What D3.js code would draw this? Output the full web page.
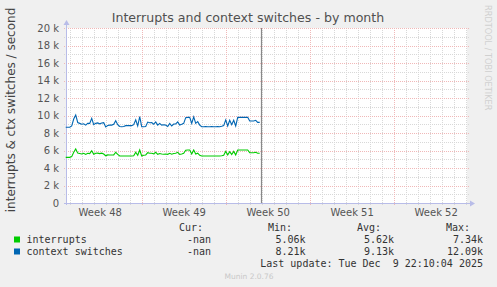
<!DOCTYPE html>
<html>
<head>
<meta charset="utf-8">
<title>interrupts by month</title>
<script src="https://d3js.org/d3.v7.min.js"></script>
<style>
  body { margin: 0; background: #f0f0f0; overflow: hidden; }
  svg text { font-family: "DejaVu Sans", sans-serif; }
  .mono { font-family: "DejaVu Sans Mono", monospace; font-size: 10px; fill: #333; }
</style>
</head>
<body>
<script>
// series: one value every 4 hours, starting Sun Nov 23 16:00
const seriesStart = new Date(2025, 10, 23, 16, 0);
const stepHours = 4;
const contextSwitches = [
  8650, 8650, 8650, 8800, 9600, 10060, 9200, 9100, 9000, 9050,
  8900, 9100, 9100, 9680, 8950, 9100, 9150, 9050, 9150, 9180,
  8700, 8850, 8900, 8900, 9000, 9400, 8950, 8750, 8720, 8750,
  8840, 8840, 8840, 8840, 8950, 9500, 8800, 9870, 8720, 8720,
  8750, 9250, 9180, 9200, 9000, 9260, 8900, 9100, 8900, 8950,
  8900, 8750, 9100, 8800, 9030, 9030, 9260, 8910, 9000, 9100,
  9750, 9790, 9790, 9100, 9850, 9100, 9300, 8900, 8720, 8720,
  8750, 8720, 8720, 8750, 8720, 8720, 8750, 8720, 8780, 8850,
  9500, 8800, 9450, 8950, 9450, 8800, 9790, 9790, 9790, 9790,
  9790, 9790, 9370, 9370, 9370, 9450, 9220, 9220
];
const interrupts = [
  5220, 5220, 5220, 5300, 5800, 6170, 5700, 5650, 5600, 5680,
  5550, 5680, 5650, 5980, 5560, 5680, 5700, 5650, 5700, 5600,
  5400, 5500, 5490, 5490, 5500, 5800, 5560, 5370, 5370, 5370,
  5370, 5370, 5370, 5370, 5400, 5800, 5450, 6060, 5370, 5450,
  5490, 5750, 5680, 5680, 5620, 5790, 5560, 5650, 5600, 5580,
  5600, 5560, 5680, 5580, 5650, 5680, 5790, 5560, 5600, 5680,
  6030, 6060, 6060, 5600, 6060, 5600, 5700, 5450, 5370, 5370,
  5370, 5370, 5370, 5370, 5370, 5370, 5370, 5370, 5400, 5450,
  5900, 5500, 5870, 5550, 5900, 5500, 6060, 6060, 6060, 6060,
  6060, 6060, 5750, 5750, 5750, 5800, 5680, 5680
];

const yTicks = [0, 2000, 4000, 6000, 8000, 10000, 12000, 14000, 16000, 18000, 20000];
const weekLabels = ["Week 48", "Week 49", "Week 50", "Week 51", "Week 52"];
const weekStarts = [
  new Date(2025, 10, 23), new Date(2025, 10, 30), new Date(2025, 11, 7),
  new Date(2025, 11, 14), new Date(2025, 11, 21)
];
const lastUpdate = new Date(2025, 11, 9, 22, 10, 4);

const legendNames = ["interrupts", "context switches"];
const legendColors = ["#00cc00", "#0066b3"];
const legendCur = ["-nan", "-nan"];
const legendMin = ["5.06k", "8.21k"];
const legendAvg = ["5.62k", "9.13k"];
const legendMax = ["7.34k", "12.09k"];

const W = 497, H = 287;
const svg = d3.select("body").append("svg").attr("width", W).attr("height", H);
svg.append("rect").attr("width", W).attr("height", H).attr("fill", "#f0f0f0");

const x0 = 66, x1 = 467, yTop = 28, yBot = 203;
const x = d3.scaleTime()
  .domain([new Date(2025, 10, 23, 16, 34), new Date(2025, 11, 27, 2, 36)])
  .range([x0, x1]);
const y = d3.scaleLinear().domain([0, 20000]).range([yBot, yTop]);

svg.append("rect").attr("x", x0).attr("y", yTop).attr("width", x1 - x0).attr("height", yBot - yTop).attr("fill", "#fff");

const minorC = "#d8d8d8", majorC = "#f0b8b8";
const grid = svg.append("g").attr("shape-rendering", "crispEdges");
// minor horizontal
d3.range(1000, 20001, 2000).forEach(v => {
  grid.append("line").attr("x1", x0 - 2).attr("x2", x1 + 2)
    .attr("y1", Math.round(y(v)) + 0.5).attr("y2", Math.round(y(v)) + 0.5)
    .attr("stroke", minorC).attr("stroke-dasharray", "1,1");
});
// minor vertical, daily
d3.timeDay.range(x.domain()[0], x.domain()[1]).forEach(d => {
  if (d.getDay() === 0) return;
  const px = Math.round(x(d)) + 0.5;
  grid.append("line").attr("x1", px).attr("x2", px).attr("y1", yTop).attr("y2", yBot + 2)
    .attr("stroke", minorC).attr("stroke-dasharray", "1,1");
});
// major horizontal
yTicks.forEach(v => {
  if (v === 0) return;
  grid.append("line").attr("x1", x0 - 2).attr("x2", x1 + 2)
    .attr("y1", Math.round(y(v)) + 0.5).attr("y2", Math.round(y(v)) + 0.5)
    .attr("stroke", majorC).attr("stroke-dasharray", "1,1");
});
// major vertical, weeks
weekStarts.slice(1).forEach(d => {
  const px = Math.round(x(d)) + 0.5;
  grid.append("line").attr("x1", px).attr("x2", px).attr("y1", yTop).attr("y2", yBot + 2)
    .attr("stroke", majorC).attr("stroke-dasharray", "1,1");
});

// y axis labels
const yAxis = svg.append("g").attr("transform", `translate(${x0},0)`)
  .call(d3.axisLeft(y).tickValues(yTicks).tickSize(0).tickPadding(7)
    .tickFormat(d => d === 0 ? "0" : (d / 1000) + " k"));
yAxis.select(".domain").remove();
yAxis.selectAll("text").attr("font-size", 10).attr("fill", "#555").attr("font-family", "DejaVu Sans");

// x axis labels at mid-week
const xAxis = svg.append("g").attr("transform", `translate(0,${yBot})`)
  .call(d3.axisBottom(x).tickValues(weekStarts.map(d => d3.timeHour.offset(d, 84)))
    .tickSize(0).tickPadding(6)
    .tickFormat((d, i) => weekLabels[i]));
xAxis.select(".domain").remove();
xAxis.selectAll("text").attr("font-size", 10).attr("fill", "#555").attr("font-family", "DejaVu Sans");

// axis lines + arrows
const axc = "#b8bce8";
svg.append("line").attr("x1", x0 + 0.5).attr("x2", x0 + 0.5).attr("y1", yTop - 4).attr("y2", yBot + 2)
  .attr("stroke", axc).attr("shape-rendering", "crispEdges");
svg.append("line").attr("x1", x0 - 2).attr("x2", x1 + 4).attr("y1", yBot + 0.5).attr("y2", yBot + 0.5)
  .attr("stroke", axc).attr("shape-rendering", "crispEdges");
svg.append("path").attr("d", `M${x0 - 2.5},${yTop - 3}L${x0 + 0.5},${yTop - 8}L${x0 + 3.5},${yTop - 3}Z`).attr("fill", axc);
svg.append("path").attr("d", `M${x1 + 3},${yBot - 2.5}L${x1 + 8},${yBot + 0.5}L${x1 + 3},${yBot + 3.5}Z`).attr("fill", axc);

// data lines
const t = i => d3.timeHour.offset(seriesStart, i * stepHours);
const line = d3.line().x((d, i) => x(t(i))).y(d => y(d));
svg.append("path").datum(interrupts).attr("d", line).attr("fill", "none")
  .attr("stroke", legendColors[0]).attr("stroke-width", 1.1);
svg.append("path").datum(contextSwitches).attr("d", line).attr("fill", "none")
  .attr("stroke", legendColors[1]).attr("stroke-width", 1.1);

// now line
const nx = Math.round(x(lastUpdate)) + 0.5;
svg.append("line").attr("x1", nx).attr("x2", nx).attr("y1", yTop).attr("y2", yBot)
  .attr("stroke", "#888").attr("stroke-width", 1.2);

// title
svg.append("text").attr("x", 248).attr("y", 22).attr("text-anchor", "middle")
  .attr("font-size", 12.6).attr("fill", "#505050").text("Interrupts and context switches - by month");

// y title
svg.append("text").attr("transform", `translate(15,110) rotate(-90)`)
  .attr("text-anchor", "middle").attr("font-size", 12).attr("fill", "#444")
  .text("interrupts & ctx switches / second");

// watermark
svg.append("text").attr("transform", "translate(485,5) rotate(90)")
  .attr("font-size", 8.2).attr("fill", "#d0d0d0").text("RRDTOOL / TOBI OETIKER");

// legend
const hdr = [["Cur:", 203], ["Min:", 292], ["Avg:", 381], ["Max:", 470]];
hdr.forEach(([s, xr]) => svg.append("text").attr("class", "mono").attr("x", xr).attr("y", 231)
  .attr("text-anchor", "end").text(s));
legendNames.forEach((name, i) => {
  const by = 242.5 + i * 12;
  svg.append("rect").attr("x", 14).attr("y", by - 6).attr("width", 6).attr("height", 6).attr("fill", legendColors[i]);
  svg.append("text").attr("class", "mono").attr("x", 26.5).attr("y", by).text(name);
  [[legendCur[i], 211], [legendMin[i], 305.5], [legendAvg[i], 394], [legendMax[i], 483]].forEach(([s, xr]) =>
    svg.append("text").attr("class", "mono").attr("x", xr).attr("y", by).attr("text-anchor", "end").text(s));
});
svg.append("text").attr("class", "mono").attr("x", 483).attr("y", 266.5).attr("text-anchor", "end")
  .attr("xml:space", "preserve").style("white-space", "pre").text("Last update: Tue Dec  9 22:10:04 2025");
svg.append("text").attr("x", 249).attr("y", 279).attr("text-anchor", "middle")
  .attr("font-size", 7.5).attr("fill", "#c8c8c8").text("Munin 2.0.76");
</script>
</body>
</html>
